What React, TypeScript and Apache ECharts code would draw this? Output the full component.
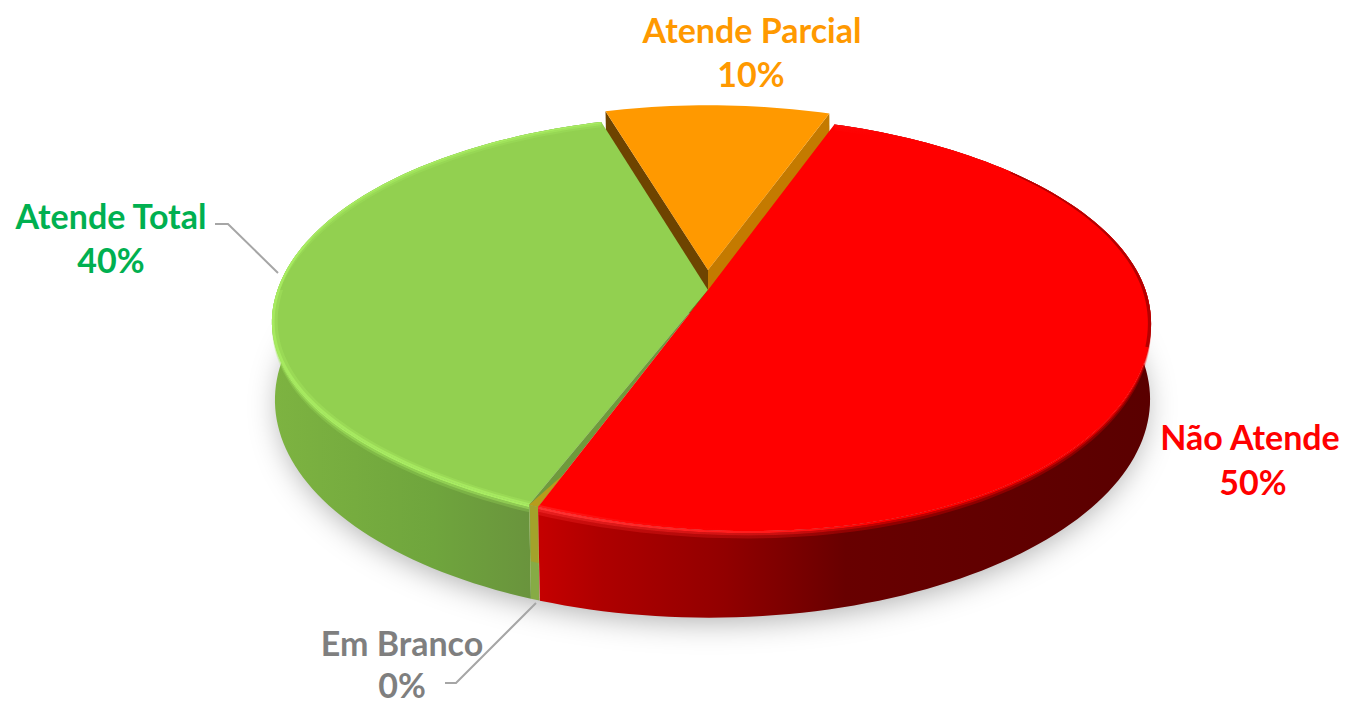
import React, { useEffect, useRef } from "react";
import * as echarts from "echarts";

const categories = ["Não Atende", "Em Branco", "Atende Total", "Atende Parcial"];
const values = [50, 0, 40, 10];
const topColors = ["#FF0000", "#A5A5A5", "#92D050", "#FF9900"];
const labelColors = ["#FF0000", "#7F7F7F", "#00B050", "#FF9900"];
const startAngle = 19.5;
const drawOrder = [3, 2, 1, 0];

const W = 1347, H = 705, FONT = "Lato, Carlito, sans-serif";
const K = 0.159;
const TOP = { x0: 708, y0: 290, rx: 434, ry: 202, shear: 0.045 };
const BOTTOM = { x0: 709, y0: 365, rx: 432, ry: 212.5, shear: 0 };
const STEP = 1.5;

const labelLayout = [
  { x: 1250, y: 436, pctX: 1253, pctY: 481 },
  { x: 402, y: 642, pctX: 402, pctY: 684 },
  { x: 111, y: 215, pctX: 111, pctY: 259 },
  { x: 752, y: 29, pctX: 751, pctY: 73 },
];
const leaders = [
  [[215, 224], [228, 224], [278, 273]],
  [[445, 683], [456, 683], [536, 603]],
];

const total = values.reduce((a, b) => a + b, 0);
const spans: number[][] = [];
values.reduce((acc, v, i) => {
  const next = acc + (v / total) * 360;
  spans[i] = [acc, next];
  return next;
}, startAngle);

type Plane = typeof TOP;
function proj(deg: number, plane: Plane, radius = 1, dv = 0) {
  const t = (deg * Math.PI) / 180;
  const u = Math.sin(t) * radius;
  const v = -Math.cos(t) * radius + dv;
  const w = 1 - K * v;
  const dx = ((plane.rx + 3.5 * u) * u) / w;
  const tilt = plane.shear * dx * Math.pow(Math.max(0, v), 1.5);
  return [plane.x0 + dx, plane.y0 + (plane.ry * v) / w + tilt];
}
function mix(a: number[], b: number[], t: number) {
  return [a[0] + (b[0] - a[0]) * t, a[1] + (b[1] - a[1]) * t];
}
function arc(a: number, b: number, fn: (d: number) => number[]) {
  const n = Math.max(1, Math.ceil(Math.abs(b - a) / STEP));
  const pts: number[][] = [];
  for (let i = 0; i <= n; i++) pts.push(fn(a + ((b - a) * i) / n));
  return pts;
}
const poly = (points: number[][], style: any) => ({ type: "polygon", shape: { points }, style, silent: true });
const grad = (stops: [number, string][], x0 = 270, x1 = 1150) =>
  new echarts.graphic.LinearGradient(x0, 0, x1, 0, stops.map(([offset, color]) => ({ offset, color })), true);

function band(a: number, b: number, t0: number, t1: number, fill: any) {
  const edge = (t: number) => (d: number) => mix(proj(d, TOP), proj(d, BOTTOM), t);
  return poly([...arc(a, b, edge(t0)), ...arc(b, a, edge(t1))], { fill });
}
function innerBand(a: number, b: number, r: number, fill: any) {
  return poly([...arc(a, b, (d) => proj(d, TOP)), ...arc(b, a, (d) => proj(d, TOP, r))], { fill });
}

const wallFills: Record<number, any> = {
  0: grad([[0, "#C40000"], [0.1, "#AE0000"], [0.3, "#920000"], [0.5, "#680000"], [1, "#5A0000"]], 541, 1150),
  2: grad([[0, "#7DB341"], [0.6, "#6FA53D"], [1, "#69923D"]], 275, 540),
};
const apex = () => [TOP.x0, TOP.y0];

function sliceChildren(i: number) {
  const [a, b] = spans[i];
  const fill = topColors[i];
  if (i === 3) {
    // Pulled slightly out of the pie, towards the back.
    const D = 0.1, R = 0.97;
    const apexT = [TOP.x0, TOP.y0 - (TOP.ry * D) / (1 + K * D)];
    const apexB = [BOTTOM.x0 - 1, BOTTOM.y0 - (BOTTOM.ry * D) / (1 + K * D)];
    const tp = (d: number) => proj(d, TOP, R, -D);
    const bt = (d: number) => proj(d, BOTTOM, R, -D);
    return [
      poly([apexT, tp(a), bt(a), apexB], { fill: "#6E4400" }),
      poly([apexT, tp(b), bt(b), apexB], { fill: "#C47A00" }),
      poly([apexT, ...arc(a, b, tp)], { fill }),
    ];
  }
  if (i === 1) {
    // A zero-share slice: only the thin facet between its two neighbours shows.
    const facet = a + 1.1;
    return [
      poly([proj(facet, TOP), proj(a, TOP), proj(a + 0.05, BOTTOM), proj(facet, BOTTOM)], { fill: "#86AB45" }),
      poly([proj(facet - 0.1, TOP), proj(a, TOP), mix(proj(a, TOP), proj(a, BOTTOM), 0.6), mix(proj(facet - 0.1, TOP), proj(facet - 0.1, BOTTOM), 0.6)], { fill: "rgba(200,150,10,0.45)" }),
      poly([apex(), proj(a, TOP), proj(facet, TOP)], { fill: "#6F9A3C" }),
      poly([mix(apex(), proj(a, TOP), 0.85), proj(a, TOP), proj(facet, TOP)], { fill: "#B79C1C" }),
    ];
  }
  if (i === 2) {
    const s = a + 1.1;
    const glow = (o: number) => `rgba(168,236,98,${o})`;
    return [
      band(s, b, 0, 1, wallFills[2]),
      poly([apex(), ...arc(s, b, (d) => proj(d, TOP))], { fill }),
      band(s, b, 0, 0.025, glow(1)),
      band(s, b, 0.025, 0.05, glow(0.6)),
      band(s, b, 0.05, 0.08, glow(0.25)),
      innerBand(s, 285, 0.994, glow(0.85)),
      innerBand(s, 270, 0.987, glow(0.35)),
    ];
  }
  const shine = (o: number) =>
    grad([[0, `rgba(255,50,50,${o})`], [0.4, `rgba(255,25,25,${o})`], [0.55, `rgba(255,0,0,${o})`], [1, `rgba(255,0,0,${o})`]], 541, 1150);
  return [
    band(a, b, 0, 1, wallFills[0]),
    poly([apex(), ...arc(a, b, (d) => proj(d, TOP))], { fill }),
    band(a, b, 0, 0.025, shine(1)),
    band(a, b, 0.025, 0.05, shine(0.6)),
    band(a, b, 0.05, 0.085, shine(0.28)),
    innerBand(a, b, 0.992, grad([[0, "rgba(255,50,50,0.5)"], [0.35, "rgba(255,0,0,0)"], [1, "rgba(255,0,0,0)"]], 541, 1150)),
    innerBand(50, 105, 0.993, "rgba(90,0,0,0.45)"),
  ];
}

function shadowChild() {
  const pts = arc(0, 360, (d) => proj(d, BOTTOM, 0.99));
  return poly(pts, { fill: "#DDDDDD", shadowBlur: 30, shadowOffsetY: 7, shadowColor: "rgba(0,0,0,0.32)" });
}

function buildGraphic() {
  const elements: any[] = [];
  leaders.forEach((points) =>
    elements.push({ type: "polyline", shape: { points }, style: { stroke: "#A6A6A6", lineWidth: 2, fill: "none" }, z: 10 }),
  );
  categories.forEach((name, i) => {
    const l = labelLayout[i];
    const common = { fill: labelColors[i], font: `bold 34px ${FONT}`, textAlign: "center", textVerticalAlign: "middle" };
    elements.push({ type: "text", x: l.x, y: l.y, style: { ...common, text: name }, z: 11 });
    elements.push({ type: "text", x: l.pctX, y: l.pctY, style: { ...common, text: `${values[i]}%` }, z: 11 });
  });
  return elements;
}

export default function App() {
  const ref = useRef<HTMLDivElement>(null);
  useEffect(() => {
    const chart = echarts.init(ref.current!, undefined, { renderer: "svg" });
    chart.setOption({
      animation: false,
      backgroundColor: "#FFFFFF",
      graphic: buildGraphic(),
      series: [
        {
          type: "custom",
          coordinateSystem: "none",
          silent: true,
          z: 1,
          data: [0],
          renderItem: () => ({ type: "group", children: [shadowChild()] }),
        },
        {
          type: "custom",
          coordinateSystem: "none",
          silent: true,
          z: 2,
          data: drawOrder.map((i) => [i, values[i]]),
          renderItem: (_p: any, api: any) => ({ type: "group", children: sliceChildren(api.value(0)) }),
        },
      ],
    });
    return () => chart.dispose();
  }, []);
  return <div ref={ref} style={{ position: "absolute", left: 0, top: 0, width: W, height: H }} />;
}
